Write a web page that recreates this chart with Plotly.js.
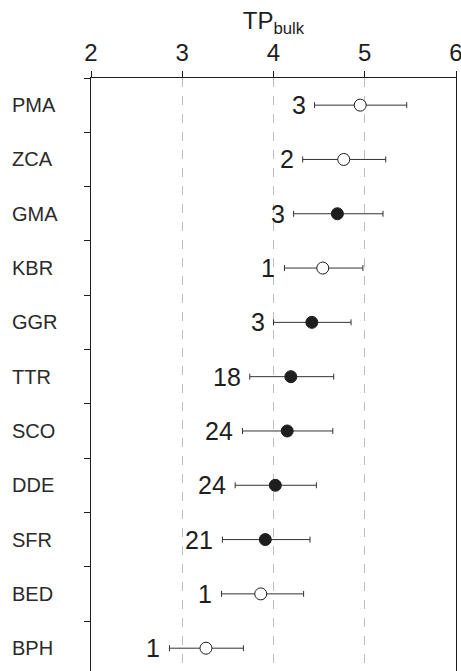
<!DOCTYPE html>
<html>
<head>
<meta charset="utf-8">
<script src="https://cdn.plot.ly/plotly-3.0.1.min.js"></script>
<style>html,body{margin:0;padding:0;background:#fff;}#chart{width:461px;height:671px;}</style>
</head>
<body>
<div id="chart"></div>
<script>
const categories = ['PMA','ZCA','GMA','KBR','GGR','TTR','SCO','DDE','SFR','BED','BPH'];
const means  = [4.95, 4.77, 4.70, 4.54, 4.42, 4.19, 4.15, 4.02, 3.91, 3.86, 3.26];
const lower  = [4.45, 4.32, 4.22, 4.12, 4.00, 3.74, 3.66, 3.58, 3.44, 3.43, 2.86];
const upper  = [5.46, 5.23, 5.20, 4.98, 4.85, 4.66, 4.65, 4.47, 4.40, 4.33, 3.67];
const counts = [3, 2, 3, 1, 3, 18, 24, 24, 21, 1, 1];
const filled = [false, false, true, false, true, true, true, true, true, false, false];
const xTicks = [2, 3, 4, 5, 6];

const ink = '#1e1e1e';
const font = 'Liberation Sans, Arial, Helvetica, sans-serif';

const trace = {
  type: 'scatter', mode: 'markers',
  x: means, y: categories,
  error_x: {
    type: 'data', symmetric: false,
    array: upper.map((u, i) => u - means[i]),
    arrayminus: lower.map((l, i) => means[i] - l),
    color: '#333', thickness: 1, width: 3
  },
  marker: {
    size: 12,
    color: filled.map(f => f ? ink : '#ffffff'),
    line: {color: ink, width: 1}
  },
  hoverinfo: 'skip', cliponaxis: false
};

const annotations = [];
categories.forEach((c, i) => {
  annotations.push({
    xref: 'x', yref: 'y', x: lower[i], y: c,
    text: String(counts[i]), showarrow: false,
    xanchor: 'right', yanchor: 'middle', xshift: -7,
    font: {family: font, size: 25, color: ink}
  });
  annotations.push({
    xref: 'paper', yref: 'y', x: -0.222, y: c,
    text: c, showarrow: false,
    xanchor: 'left', yanchor: 'middle',
    font: {family: font, size: 20, color: '#2a2a2a'}
  });
});

const layout = {
  width: 461, height: 671,
  margin: {l: 91, r: 5, t: 78, b: 0, pad: 0},
  paper_bgcolor: '#fff', plot_bgcolor: '#fff',
  showlegend: false,
  font: {family: font, color: ink},
  title: {
    text: 'TP<sub>bulk</sub>',
    xref: 'paper', x: 0.5, xanchor: 'center',
    yref: 'container', y: 1 - 21/671, yanchor: 'middle',
    font: {family: font, size: 24, color: ink}
  },
  xaxis: {
    side: 'top', range: [2, 6],
    tickvals: xTicks, ticktext: xTicks.map(String),
    ticks: 'outside', ticklen: 6, tickcolor: ink, tickwidth: 1,
    tickfont: {family: font, size: 24, color: ink},
    ticklabeloverflow: 'allow',
    showline: true, linecolor: ink, linewidth: 1, mirror: false,
    showgrid: true, gridcolor: '#bdbdbd', griddash: 'dash', gridwidth: 1,
    zeroline: false, fixedrange: true
  },
  yaxis: {
    type: 'category', categoryorder: 'array', categoryarray: categories,
    range: [10.42, -0.5],
    tickson: 'boundaries', ticks: 'outside', ticklen: 6, tickcolor: ink,
    showticklabels: false,
    showline: true, linecolor: ink, linewidth: 1, mirror: true,
    showgrid: false, zeroline: false, fixedrange: true
  },
  annotations: annotations
};

Plotly.newPlot('chart', [trace], layout, {staticPlot: true, displayModeBar: false});
</script>
</body>
</html>
